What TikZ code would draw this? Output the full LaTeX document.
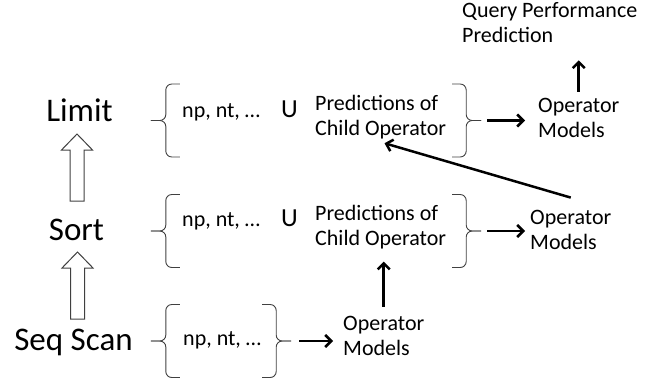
\documentclass[tikz,border=0pt]{standalone}
\usepackage{fontspec}
\setmainfont{Carlito}
\usetikzlibrary{arrows.meta,calc}
\definecolor{edgegray}{HTML}{404040}
\tikzset{
  opname/.style={font=\fontsize{33}{40}\selectfont,inner sep=0pt},
  txt/.style={font=\fontsize{22}{25}\selectfont,align=left,inner sep=3pt},
  union/.style={font=\fontsize{26}{30}\selectfont,inner sep=0pt},
  group/.style={minimum height=73pt,inner sep=0pt},
  bracket/.style={line width=0.9pt,draw=edgegray,rounded corners=6pt},
  arrow/.style={-{Straight Barb[length=6pt,width=12pt]},line width=2.5pt},
  hollowline/.style={draw=edgegray,line width=1pt,line join=miter},
  hollowup/.pic={
    \draw[hollowline] (-7,0) -- (-7,51) -- (-15.5,51) -- (0,67) -- (15.5,51) -- (7,51) -- (7,0) -- cycle;
    \coordinate (-tip) at (0,67);
  },
  lbrace/.pic={
    \draw[bracket] (0,36.5) -- (-14,36.5) -- (-14,0) -- (-29,0);
    \draw[bracket] (0,-36.5) -- (-14,-36.5) -- (-14,0) -- (-29,0);
    \coordinate (-tip) at (-29,0);
  },
  rbrace/.pic={
    \draw[bracket] (0,36.5) -- (14,36.5) -- (14,0) -- (29,0);
    \draw[bracket] (0,-36.5) -- (14,-36.5) -- (14,0) -- (29,0);
    \coordinate (-tip) at (29,0);
  }
}
\begin{document}
\begin{tikzpicture}[x=1pt,y=1pt]
\useasboundingbox (0,0) rectangle (660,384);
% operators of the plan
\node[opname,anchor=base] (limit) at (79.5,263) {Limit};
\node[opname,anchor=base] (sort) at (76.5,144) {Sort};
\node[opname,anchor=base] (seqscan) at (73.5,34) {Seq Scan};
\coordinate (sortout) at (77,183);
\coordinate (seqout) at (77.5,65);
\pic (limitup) at (sortout) {hollowup};
\pic (sortup) at (seqout) {hollowup};
% feature groups
\node[group,minimum width=272pt] (limitgrp) at (316,263.5) {};
\node[group,minimum width=272pt] (sortgrp) at (316,153) {};
\node[group,minimum width=82pt] (seqgrp) at (221,43) {};
\pic (limitl) at (limitgrp.west) {lbrace};
\pic (limitr) at (limitgrp.east) {rbrace};
\pic (sortl) at (sortgrp.west) {lbrace};
\pic (sortr) at (sortgrp.east) {rbrace};
\pic (seql) at (seqgrp.west) {lbrace};
\pic (seqr) at (seqgrp.east) {rbrace};
\node[txt,anchor=base west,inner sep=0pt] (limitnp) at (182,267) {np, nt, \dots};
\node[union,anchor=base] (limitu) at (289.5,267) {U};
\node[txt,anchor=west] (limitpred) at (312,267) {Predictions of\\Child Operator};
\node[txt,anchor=base west,inner sep=0pt] (sortnp) at (182,158) {np, nt, \dots};
\node[union,anchor=base] (sortu) at (289.5,158) {U};
\node[txt,anchor=west] (sortpred) at (312,157) {Predictions of\\Child Operator};
\node[txt,anchor=base west,inner sep=0pt] (seqnp) at (183,39) {np, nt, \dots};
% models
\node[txt,anchor=west] (limitmodel) at (535,266) {Operator\\Models};
\node[txt,anchor=west] (sortmodel) at (527,154) {Operator\\Models};
\node[txt,anchor=west] (seqmodel) at (340,48) {Operator\\Models};
\node[txt,anchor=west] (qpp) at (459,361) {Query Performance\\Prediction};
\draw[arrow,shorten <=6pt,shorten >=10pt] (limitr-tip) -- (limitr-tip -| limitmodel.west);
\draw[arrow,shorten <=6pt,shorten >=2pt] (sortr-tip) -- (sortr-tip -| sortmodel.west);
\draw[arrow,shorten <=8pt,shorten >=7pt] (seqr-tip) -- (seqr-tip -| seqmodel.west);
\draw[arrow,shorten <=3.5pt,shorten >=14pt] (limitmodel.north) -- (limitmodel.north |- qpp.south);
\draw[arrow,shorten <=6.5pt,shorten >=9.5pt] (seqmodel.north) -- (seqmodel.north |- sortpred.south);
\draw[arrow,shorten >=4pt] ([yshift=9.5pt]sortmodel.north) -- (limitpred.south);
\end{tikzpicture}
\end{document}
